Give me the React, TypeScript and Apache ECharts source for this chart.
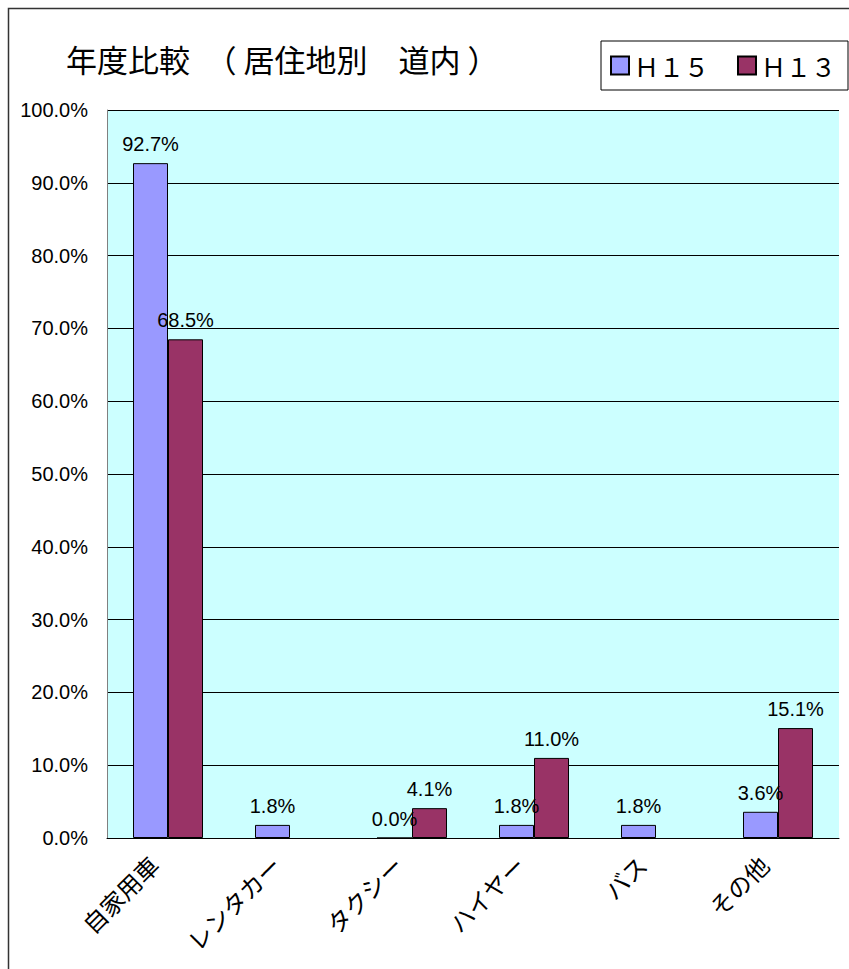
import React, { useEffect, useRef } from "react";
import * as echarts from "echarts";

const categories = ["自家用車", "レンタカー", "タクシー", "ハイヤー", "バス", "その他"];
const seriesNames = ["Ｈ１５", "Ｈ１３"];
const h15Values: (number | null)[] = [92.7, 1.8, 0.0, 1.8, 1.8, 3.6];
const h13Values: (number | null)[] = [68.5, null, 4.1, 11.0, null, 15.1];
const yTicks = { min: 0, max: 100, interval: 10 };
const titleText = "年度比較　（ 居住地別　道内 ）";

const NUM_FONT = "'Liberation Sans', Arial, sans-serif";
const JP_FONT = "'Noto Sans CJK JP', 'Noto Sans', sans-serif";

export default function App() {
  const ref = useRef<HTMLDivElement>(null);
  useEffect(() => {
    if (!ref.current) return;
    const chart = echarts.init(ref.current, null, { renderer: "svg" });
    const labelFmt = (p: any) => `${Number(p.value).toFixed(1)}%`;
    chart.setOption({
      animation: false,
      backgroundColor: "#ffffff",
      title: {
        text: titleText,
        left: 66,
        top: 43,
        padding: 0,
        textStyle: { fontFamily: JP_FONT, fontSize: 31, fontWeight: "normal", color: "#000" },
      },
      legend: {
        data: seriesNames,
        left: 601,
        top: 41,
        width: 300,
        padding: [12, 12, 12, 9],
        borderColor: "#000",
        borderWidth: 1,
        itemWidth: 18,
        itemHeight: 18,
        itemGap: 28,
        icon: "rect",
        textStyle: { fontFamily: JP_FONT, fontSize: 25, color: "#000" },
      },
      graphic: [
        {
          type: "rect",
          shape: { x: 8.5, y: 8.5, width: 1000, height: 1000 },
          style: { fill: "none", stroke: "#333", lineWidth: 1.5 },
          silent: true,
          z: -10,
        },
      ],
      grid: {
        left: 107,
        right: 10,
        top: 110,
        bottom: 131,
        show: true,
        backgroundColor: "#CCFFFF",
        borderWidth: 0,
        outerBoundsMode: "none",
      },
      xAxis: {
        type: "category",
        data: categories,
        axisLine: { lineStyle: { color: "#000", width: 1 } },
        axisTick: { inside: true, length: 6, lineStyle: { color: "#000" } },
        axisLabel: {
          rotate: 45,
          margin: 8,
          padding: [0, 20, 0, 0],
          fontFamily: JP_FONT,
          fontSize: 24,
          color: "#000",
          interval: 0,
        },
      },
      yAxis: {
        type: "value",
        min: yTicks.min,
        max: yTicks.max,
        interval: yTicks.interval,
        axisLine: { show: true, lineStyle: { color: "#808080", width: 1 } },
        axisTick: { show: false },
        axisLabel: {
          margin: 19,
          fontFamily: NUM_FONT,
          fontSize: 20,
          color: "#000",
          formatter: (v: number) => `${v.toFixed(1)}%`,
        },
        splitLine: { show: true, lineStyle: { color: "#000", width: 1 } },
      },
      series: [
        {
          name: seriesNames[0],
          type: "bar",
          data: h15Values,
          barWidth: 35,
          barGap: "0%",
          itemStyle: { color: "#9999FF", borderColor: "#000", borderWidth: 1 },
          label: {
            show: true,
            position: "top",
            distance: 9,
            formatter: labelFmt,
            fontFamily: NUM_FONT,
            fontSize: 20,
            color: "#000",
          },
        },
        {
          name: seriesNames[1],
          type: "bar",
          data: h13Values,
          barWidth: 35,
          barGap: "0%",
          itemStyle: { color: "#993366", borderColor: "#000", borderWidth: 1 },
          label: {
            show: true,
            position: "top",
            distance: 9,
            formatter: labelFmt,
            fontFamily: NUM_FONT,
            fontSize: 20,
            color: "#000",
          },
        },
      ],
    });
    return () => chart.dispose();
  }, []);
  return (
    <div
      ref={ref}
      style={{ position: "fixed", left: 0, top: 0, width: 849, height: 969 }}
    />
  );
}
